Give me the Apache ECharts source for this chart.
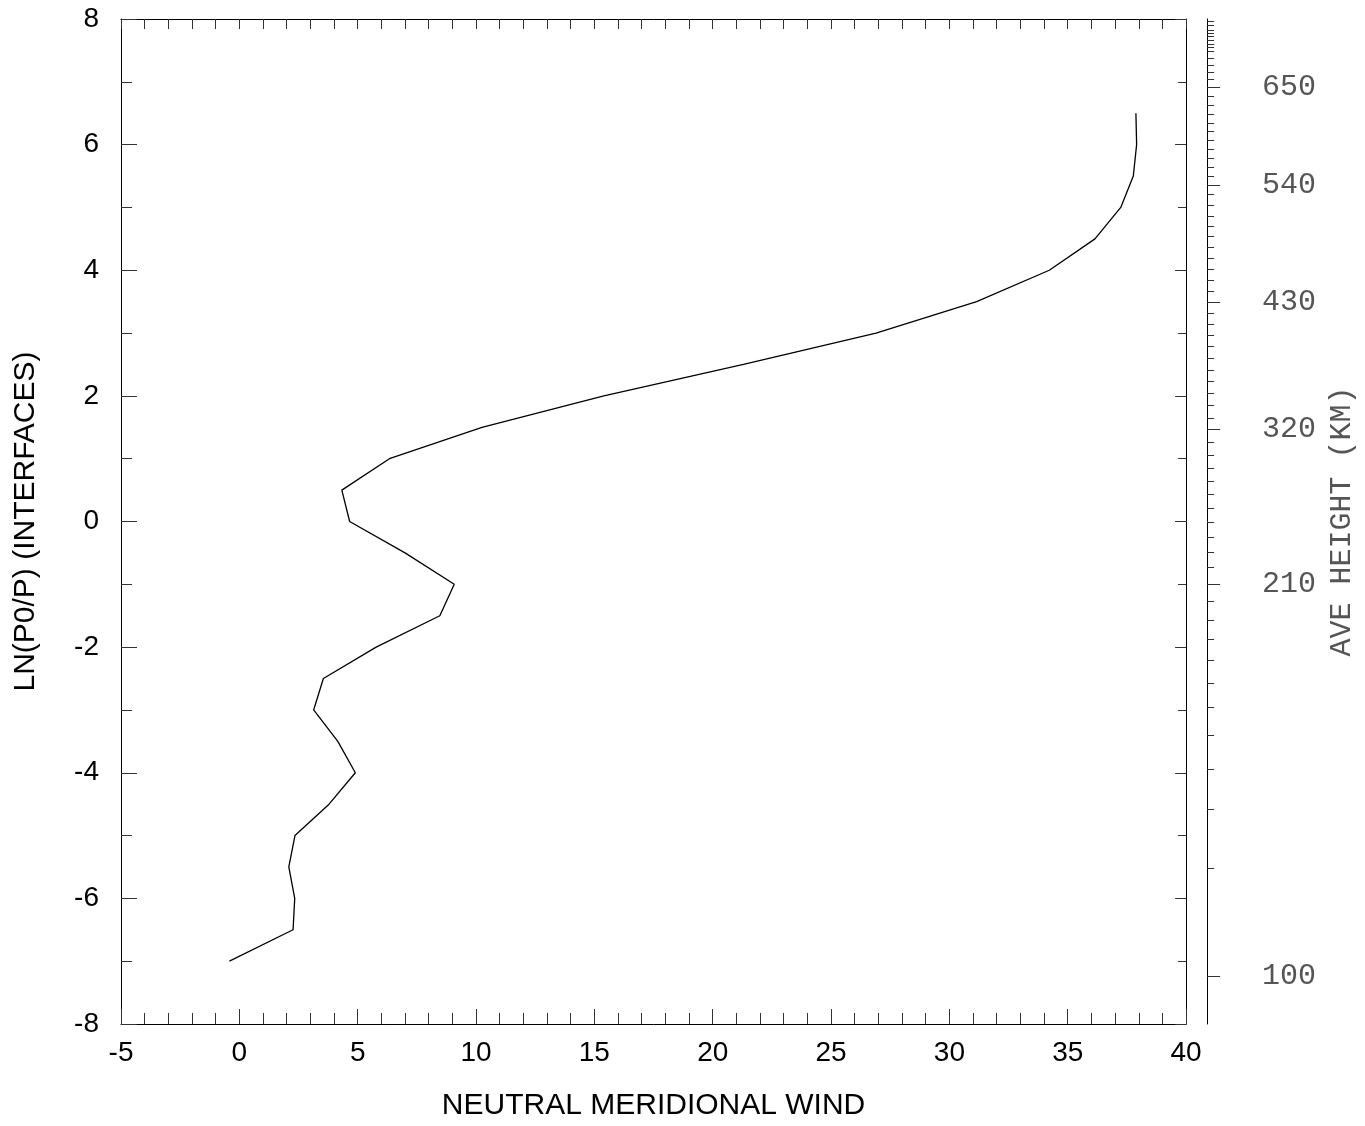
<!DOCTYPE html>
<html>
<head>
<meta charset="utf-8">
<script src="https://cdn.jsdelivr.net/npm/echarts@6/dist/echarts.min.js"></script>
<style>
html,body{margin:0;padding:0;background:#fff;}
#chart{width:1365px;height:1126px;}
</style>
</head>
<body>
<div id="chart"></div>
<script>
// ln(P0/P) levels (interfaces)
var levels = [-7.0,-6.5,-6.0,-5.5,-5.0,-4.5,-4.0,-3.5,-3.0,-2.5,-2.0,-1.5,-1.0,-0.5,0.0,0.5,1.0,1.5,2.0,2.5,3.0,3.5,4.0,4.5,5.0,5.5,6.0,6.5];
// neutral meridional wind at each level
var wind = [-0.42,2.27,2.34,2.09,2.35,3.79,4.90,4.16,3.14,3.55,5.78,8.47,9.08,7.0,4.66,4.33,6.34,10.25,15.4,21.3,26.9,31.15,34.22,36.15,37.24,37.77,37.91,37.88];

// average height axis: labelled heights (km) and their ln(P0/P) positions
var heightLabels = [100,210,320,430,540,650];
var heightLabelPos = [-7.243,-1.0,1.465,3.497,5.354,6.916];
// minor height ticks (every 10 km) at their ln(P0/P) positions
var heightMinorPos = [
  -5.524,-4.583,-3.937,-3.405,-2.957,-2.571,-2.202,-1.873,-1.567,-1.275,
  -0.735,-0.492,-0.254,-0.016,0.206,0.429,0.640,0.852,1.052,1.254,
  1.651,1.846,2.043,2.227,2.413,2.598,2.783,2.968,3.143,3.317,
  3.671,3.846,4.016,4.190,4.360,4.535,4.703,4.862,5.032,5.202,
  5.495,5.638,5.779,5.922,6.063,6.206,6.348,6.490,6.632,6.775,
  7.043,7.149,7.259,7.376,7.481,7.544,7.598,7.667,7.719,7.773,7.825,7.894,7.968
];

var xMin = -5, xMax = 40, xStep = 5;
var yMin = -8, yMax = 8, yStep = 2;

var sans = 'Liberation Sans';
var mono = 'Liberation Mono';

var chart = echarts.init(document.getElementById('chart'));
var data = levels.map(function(z, i){ return [wind[i], z]; });

function frameTick(len){ return {show:true, inside:true, length:len, lineStyle:{color:'#333', width:1}}; }

chart.setOption({
  animation:false,
  backgroundColor:'#fff',
  grid:{left:121, right:178, top:19, bottom:96, containLabel:false},
  xAxis:[
    {type:'value', position:'bottom', min:xMin, max:xMax, interval:xStep,
     axisLine:{show:true, onZero:false, lineStyle:{color:'#000', width:1}},
     axisTick:frameTick(15),
     minorTick:{show:true, splitNumber:5, length:11, lineStyle:{color:'#333', width:1}},
     splitLine:{show:false}, minorSplitLine:{show:false},
     axisLabel:{show:true, margin:15, color:'#000', fontFamily:sans, fontSize:28},
     name:'NEUTRAL MERIDIONAL WIND', nameLocation:'middle', nameGap:67,
     nameTextStyle:{color:'#000', fontFamily:sans, fontSize:30}},
    {type:'value', position:'top', min:xMin, max:xMax, interval:xStep,
     axisLine:{show:true, onZero:false, lineStyle:{color:'#000', width:1}},
     axisTick:frameTick(10),
     minorTick:{show:true, splitNumber:5, length:10, lineStyle:{color:'#333', width:1}},
     splitLine:{show:false}, axisLabel:{show:false}}
  ],
  yAxis:[
    {type:'value', position:'left', min:yMin, max:yMax, interval:yStep,
     axisLine:{show:true, onZero:false, lineStyle:{color:'#000', width:1}},
     axisTick:frameTick(16),
     minorTick:{show:true, splitNumber:2, length:11, lineStyle:{color:'#333', width:1}},
     splitLine:{show:false},
     axisLabel:{show:true, margin:22, color:'#000', fontFamily:sans, fontSize:28},
     name:'LN(P0/P) (INTERFACES)', nameLocation:'middle', nameGap:80, nameRotate:90,
     nameTextStyle:{color:'#000', fontFamily:sans, fontSize:30}},
    {type:'value', position:'right', min:yMin, max:yMax, interval:yStep,
     axisLine:{show:true, onZero:false, lineStyle:{color:'#000', width:1}},
     axisTick:frameTick(11),
     minorTick:{show:true, splitNumber:2, length:8, lineStyle:{color:'#333', width:1}},
     splitLine:{show:false}, axisLabel:{show:false}},
    {type:'value', position:'right', offset:21, min:yMin, max:yMax,
     axisLine:{show:true, onZero:false, lineStyle:{color:'#000', width:1}},
     axisTick:{show:true, inside:false, length:7, customValues:heightMinorPos, lineStyle:{color:'#333', width:1}},
     splitLine:{show:false}, axisLabel:{show:false}},
    {type:'value', position:'right', offset:21, min:yMin, max:yMax,
     axisLine:{show:false, onZero:false},
     axisTick:{show:true, inside:false, length:13, customValues:heightLabelPos, lineStyle:{color:'#333', width:1}},
     splitLine:{show:false},
     axisLabel:{show:true, margin:55, customValues:heightLabelPos, color:'#555', fontFamily:mono, fontSize:30,
       formatter:function(v){
         for (var i=0;i<heightLabelPos.length;i++){ if (Math.abs(heightLabelPos[i]-v)<1e-6) return String(heightLabels[i]); }
         return '';
       }},
     name:'AVE HEIGHT (KM)', nameLocation:'middle', nameGap:111, nameRotate:90,
     nameTextStyle:{color:'#555', fontFamily:mono, fontSize:30}}
  ],
  series:[
    {type:'line', xAxisIndex:0, yAxisIndex:0, data:data, showSymbol:false, symbol:'none',
     lineStyle:{color:'#000', width:1.3}, silent:true, clip:false}
  ]
});
</script>
</body>
</html>
